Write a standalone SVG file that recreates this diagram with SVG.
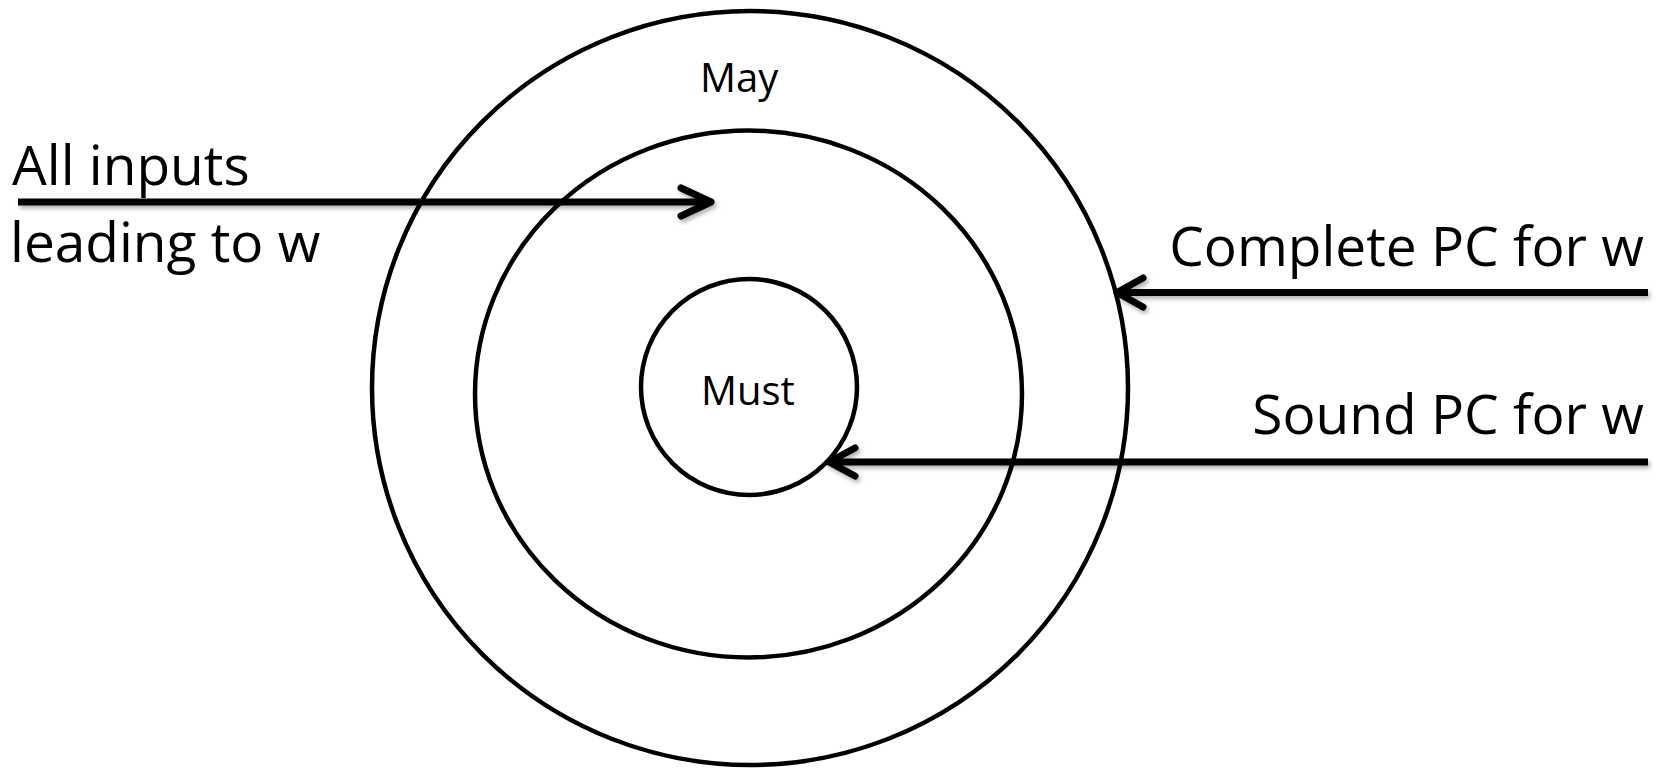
<svg xmlns="http://www.w3.org/2000/svg" width="1666" height="768" viewBox="0 0 1666 768">
  <defs>
    <filter id="shadow" x="-5%" y="-50%" width="110%" height="250%">
      <feDropShadow dx="2" dy="3" stdDeviation="2" flood-color="#000" flood-opacity="0.3"/>
    </filter>
  </defs>
  <style>
    .ring { fill: none; stroke: #000; stroke-width: 4.5; }
    .shaft { fill: none; stroke: #000; stroke-width: 7; stroke-linecap: butt; }
    .head { fill: none; stroke: #000; stroke-width: 7; stroke-linecap: round; stroke-linejoin: round; }
    .big { font-family: "Open Sans", "Noto Sans", sans-serif; font-size: 55px; fill: #000; }
    .small { font-family: "Open Sans", "Noto Sans", sans-serif; font-size: 40px; fill: #000; }
  </style>
  <rect width="1666" height="768" fill="#fff"/>

  <g id="may">
    <ellipse class="ring" cx="750" cy="388" rx="378" ry="377"/>
    <text class="small" x="700" y="92">May</text>
  </g>
  <g id="middle">
    <ellipse class="ring" cx="748.5" cy="394" rx="273.5" ry="263.5"/>
  </g>
  <g id="must">
    <circle class="ring" cx="749" cy="387" r="108"/>
    <text class="small" x="701" y="405">Must</text>
  </g>

  <g id="label-all-inputs">
    <text class="big" x="12" y="185">All inputs</text>
    <text class="big" x="10" y="262">leading to w</text>
  </g>
  <g id="label-complete">
    <text class="big" x="1644" y="265.5" text-anchor="end">Complete PC for w</text>
  </g>
  <g id="label-sound">
    <text class="big" x="1644" y="433.5" text-anchor="end">Sound PC for w</text>
  </g>

  <g id="connectors" filter="url(#shadow)">
    <line class="shaft" x1="18" y1="202" x2="709" y2="202"/>
    <polyline class="head" points="681,188 711,202 681,216"/>
    <line class="shaft" x1="1648" y1="292.5" x2="1119" y2="292.5"/>
    <polyline class="head" points="1143,278 1117,292.5 1143,307"/>
    <line class="shaft" x1="1648" y1="462" x2="831" y2="462"/>
    <polyline class="head" points="855,448 829,462 855,476"/>
  </g>
</svg>
